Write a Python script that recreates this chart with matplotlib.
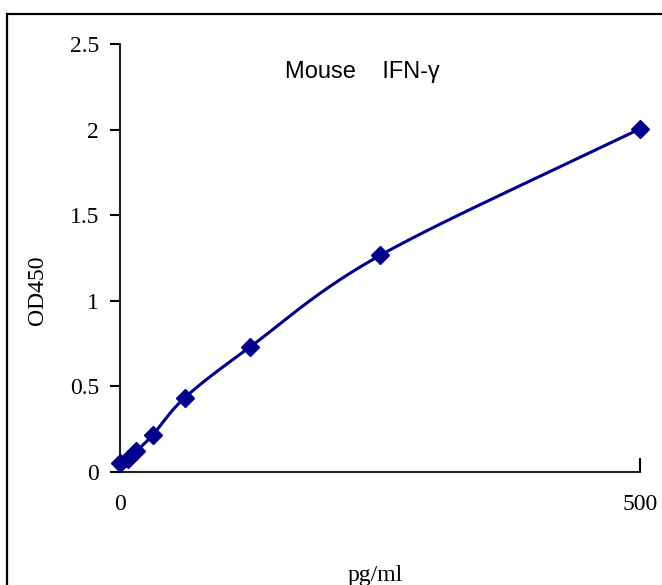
import numpy as np
import matplotlib
matplotlib.use("Agg")
import matplotlib.pyplot as plt
from matplotlib.patches import Rectangle

# Data
conc = [0, 7.8, 15.6, 31.25, 62.5, 125, 250, 500]
od450 = [0.055, 0.075, 0.12, 0.215, 0.435, 0.73, 1.265, 2.005]
yticks = [0, 0.5, 1, 1.5, 2, 2.5]
ytick_labels = ["0", "0.5", "1", "1.5", "2", "2.5"]
xticks = [0, 500]
xtick_labels = ["0", "500"]
title = "Mouse    IFN-γ"
xlabel = "pg/ml"
ylabel = "OD450"

color = "#00008B"
serif = ["Liberation Serif", "DejaVu Serif"]


def smooth(xs, ys, xr, yr, n=40):
    # Catmull-Rom style smoothing (like a spreadsheet smoothed line)
    P = np.column_stack([np.asarray(xs) / xr, np.asarray(ys) / yr])
    P = np.vstack([P[0] - (P[1] - P[0]), P, P[-1] + (P[-1] - P[-2])])
    out = []
    for i in range(1, len(P) - 2):
        p0, p1, p2, p3 = P[i - 1], P[i], P[i + 1], P[i + 2]
        b1 = p1 + (p2 - p0) / 6.0
        b2 = p2 - (p3 - p1) / 6.0
        t = np.linspace(0, 1, n)[:, None]
        seg = ((1 - t) ** 3) * p1 + 3 * ((1 - t) ** 2) * t * b1 + 3 * (1 - t) * t ** 2 * b2 + t ** 3 * p2
        out.append(seg if i == 1 else seg[1:])
    out = np.vstack(out)
    return out[:, 0] * xr, out[:, 1] * yr


fig = plt.figure(figsize=(6.62, 5.85), dpi=100)
ax = fig.add_axes([120 / 662, 1 - 472 / 585, 520 / 662, 428 / 585])

sx, sy = smooth(conc, od450, 500, 2.5)
ax.plot(sx, sy, color=color, lw=2.2, solid_capstyle="round", zorder=3)
ax.plot(conc, od450, linestyle="none", marker="D", ms=9, color=color, zorder=4, clip_on=False)

ax.set_xlim(0, 500)
ax.set_ylim(0, 2.5)
ax.set_yticks(yticks)
ax.set_yticklabels(ytick_labels)
ax.set_xticks(xticks)
ax.set_xticklabels(xtick_labels)
for lab in ax.get_yticklabels() + ax.get_xticklabels():
    lab.set_family(serif)
    lab.set_fontsize(17)
ax.tick_params(axis="y", direction="out", length=7, width=1.5, pad=8, colors="black")
ax.tick_params(axis="x", direction="in", length=10, width=1.5, pad=16, colors="black")
for s in ["top", "right"]:
    ax.spines[s].set_visible(False)
for s in ["left", "bottom"]:
    ax.spines[s].set_linewidth(1.5)
    ax.spines[s].set_color("#222222")

fig.text(362 / 662, 1 - 72 / 585, title, ha="center", va="center",
         fontsize=17, family=["Liberation Sans", "DejaVu Sans"])
fig.text(375 / 662, 1 - 576 / 585, xlabel, ha="center", va="center", fontsize=17, family=serif)
fig.text(37 / 662, 1 - 290 / 585, ylabel, ha="center", va="center", rotation=90, fontsize=17, family=serif)

# outer frame (cropped at right and bottom)
fig.patches.append(Rectangle((7 / 662, -0.05), 1.2, 1 - 14 / 585 + 0.05, transform=fig.transFigure,
                             fill=False, edgecolor="black", lw=1.6))

fig.savefig("out.png", dpi=100)
